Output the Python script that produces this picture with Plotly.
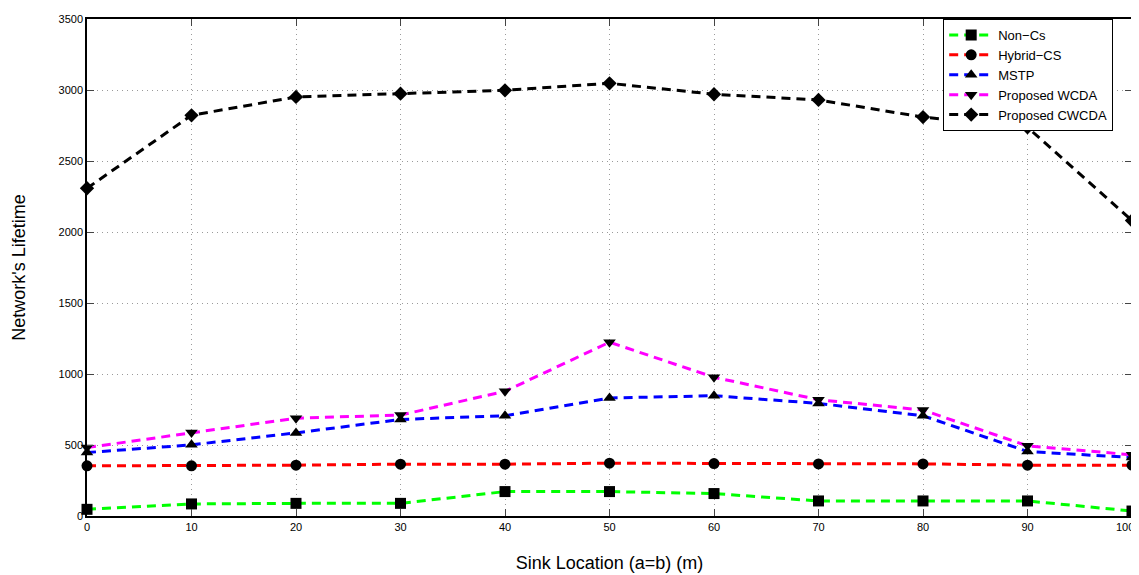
import plotly.graph_objects as go

sink_location = [0, 10, 20, 30, 40, 50, 60, 70, 80, 90, 100]
non_cs = [47, 85, 89, 89, 172, 172, 158, 106, 106, 106, 35]
hybrid_cs = [353, 353, 358, 365, 365, 372, 369, 367, 367, 358, 358]
mstp = [447, 501, 585, 680, 706, 831, 847, 793, 706, 454, 412]
wcda = [482, 588, 689, 711, 878, 1224, 977, 819, 746, 494, 431]
cwcda = [2308, 2822, 2951, 2974, 2998, 3047, 2970, 2930, 2809, 2737, 2081]

series = [
    ("Non\u2212Cs", non_cs, "#00ff00", "square"),
    ("Hybrid\u2212CS", hybrid_cs, "#ff0000", "circle"),
    ("MSTP", mstp, "#0000ff", "triangle-up"),
    ("Proposed WCDA", wcda, "#ff00ff", "triangle-down"),
    ("Proposed CWCDA", cwcda, "#000000", "diamond"),
]

fig = go.Figure()
for name, vals, color, sym in series:
    fig.add_trace(go.Scatter(
        x=sink_location, y=vals, name=name, mode="lines+markers",
        line=dict(color=color, width=3, dash="9px,6px"),
        marker=dict(symbol=sym, size=11, color="black", line=dict(width=0)),
        cliponaxis=False,
    ))

font = "Liberation Sans, Arial, sans-serif"
# last x tick label, placed by hand so it stays inside the page edge
fig.add_annotation(
    x=sink_location[-1], y=0, xref="x", yref="paper", yanchor="top",
    xanchor="right", xshift=4,
    text=str(sink_location[-1]), showarrow=False, yshift=-3,
    font=dict(size=11, family=font, color="black"),
)

fig.update_layout(
    width=1131, height=567,
    margin=dict(l=79, r=5, t=9, b=59),
    paper_bgcolor="white", plot_bgcolor="white",
    font=dict(family=font, size=11, color="black"),
    showlegend=True,
    legend=dict(
        x=0.982, y=1.0, xanchor="right", yanchor="top",
        bgcolor="white", bordercolor="black", borderwidth=1,
        font=dict(size=13, family=font), tracegroupgap=0,
        itemwidth=44,
    ),
    xaxis=dict(
        range=[0, 100], tickvals=sink_location[:-1], ticks="inside", ticklen=7,
        showline=True, linecolor="black", linewidth=1.5, mirror="ticks",
        showgrid=True, gridcolor="#9a9a9a", griddash="1px,4px", gridwidth=1,
        zeroline=False,
        title=dict(text="Sink Location (a=b) (m)", font=dict(size=18), standoff=24),
        tickfont=dict(size=11),
    ),
    yaxis=dict(
        range=[0, 3500], dtick=500, ticks="inside", ticklen=7,
        showline=True, linecolor="black", linewidth=1.5, mirror="ticks",
        showgrid=True, gridcolor="#9a9a9a", griddash="1px,4px", gridwidth=1,
        zeroline=False,
        title=dict(text="Network's Lifetime", font=dict(size=18), standoff=28),
        tickfont=dict(size=11),
    ),
)

fig.write_html("out.html")
